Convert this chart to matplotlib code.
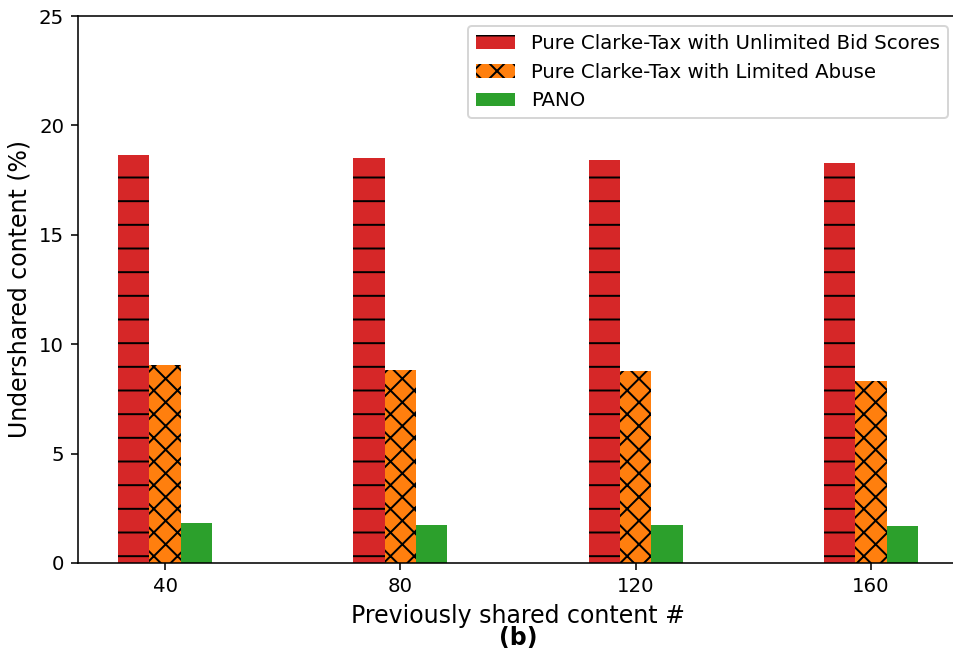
import numpy as np
import matplotlib
matplotlib.use("Agg")
import matplotlib.pyplot as plt

# data
shared = ["40", "80", "120", "160"]
unlimited = [18.65, 18.5, 18.42, 18.28]
limited = [9.05, 8.82, 8.77, 8.32]
pano = [1.83, 1.74, 1.74, 1.69]

labels = ["Pure Clarke-Tax with Unlimited Bid Scores",
          "Pure Clarke-Tax with Limited Abuse",
          "PANO"]

dpi = 142
fig = plt.figure(figsize=(953 / dpi, 649 / dpi), dpi=dpi)
# axes run slightly past the right edge, as in the cropped original
ax = fig.add_axes([78 / 953, (649 - 563) / 649, 880 / 953, (563 - 16) / 649])

x = np.arange(len(shared)) * 1.5
w = 0.2
ax.bar(x - w, unlimited, w, color="tab:red", hatch="-", label=labels[0])
ax.bar(x, limited, w, color="tab:orange", hatch="xx", label=labels[1])
ax.bar(x + w, pano, w, color="tab:green", label=labels[2])

ax.set_ylim(0, 25)
ax.set_xticks(x)
ax.set_xticklabels(shared)
ax.tick_params(labelsize=10)
ax.set_xlabel("Previously shared content #", fontsize=12)
ax.set_ylabel("Undershared content (%)", fontsize=12)
ax.text(0.5, -0.138, "(b)", transform=ax.transAxes, ha="center", va="center",
        fontsize=12, fontweight="bold")
ax.legend(loc="upper right", fontsize=10)

fig.savefig("out.png", dpi=dpi)
